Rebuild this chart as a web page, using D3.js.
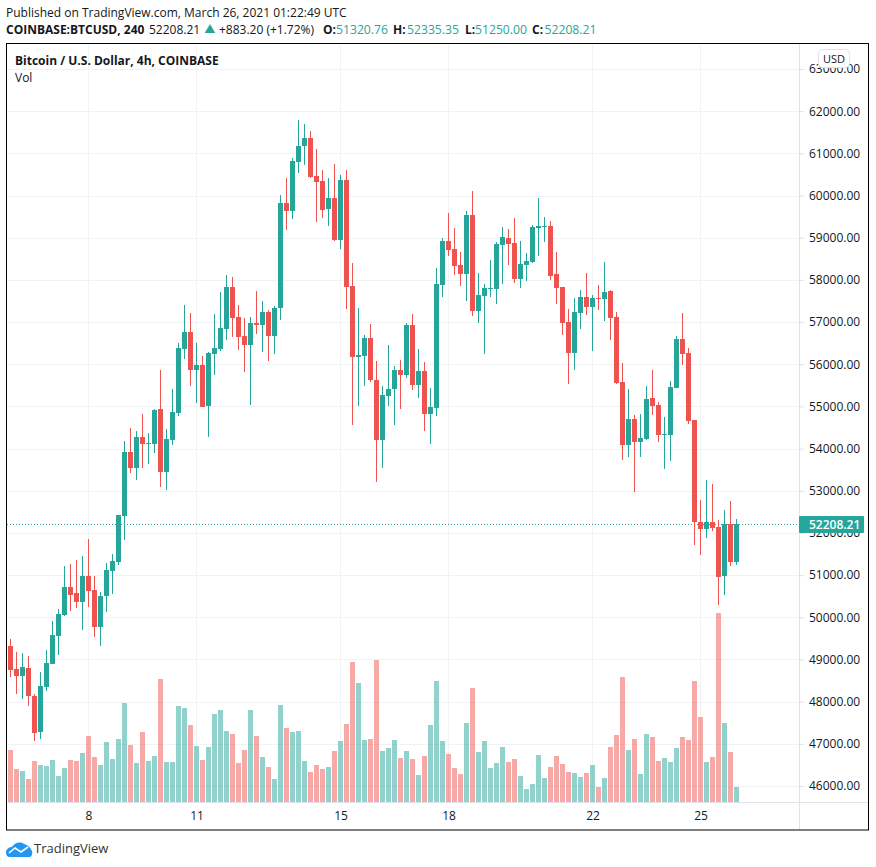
<!DOCTYPE html>
<html>
<head>
<meta charset="utf-8">
<script src="https://cdn.jsdelivr.net/npm/d3@7"></script>
<style>
    html, body { margin: 0; padding: 0; background: #fff; }
    svg { display: block; }
    text { font-family: "Open Sans", "Noto Sans", sans-serif; }
</style>
</head>
<body>
<div id="chart"></div>
<script>
var opens = [49326,48781,48615,48804,48141,47288,48354,48899,49563,50060,50724,50582,50369,50985,50653,49776,50511,51103,51317,52407,
    53923,53543,54278,54112,54112,54942,53449,54207,54847,56364,56767,55866,55984,55013,56245,56364,56838,57833,57122,56672,
    56458,56980,56933,57241,56672,57335,59824,59634,60796,61175,61364,60464,60345,59682,59942,58947,60369,57857,56174,56198,
    56624,55629,54207,55250,55416,55866,55748,56932,55510,55842,54823,54965,57880,58923,58734,58354,58141,59540,57264,57620,
    57786,57786,58828,58994,58876,58023,58354,58426,59231,59255,59279,58141,57833,57004,56269,57217,57596,57359,57572,57549,
    57738,57122,55582,54088,54705,54160,54231,55202,55036,54326,54326,55439,56601,56269,54681,52264,52098,52264,52145,50984,
    52216,51320.76];
var highs = [49492,49184,49160,49089,48188,48710,49231,49918,50203,51222,51269,51364,51459,51862,50985,50606,51293,51506,52430,54184,
    54491,54420,54823,54373,54942,55866,54468,55416,56506,57406,57217,56506,56198,56293,57193,57715,58117,58070,57406,57098,
    57122,57738,57501,57288,57383,60014,60416,60890,61791,61696,61530,61104,60606,60416,60748,60488,60606,58402,57335,56695,
    56956,56079,55487,56458,55961,56103,56980,57193,56364,56056,55439,58283,58994,59587,59231,58663,59634,60108,58165,57904,
    58473,58900,59255,59208,59468,58923,58639,59303,59942,59492,59397,58663,57833,57312,57572,57762,58165,57643,57880,58426,
    57762,57241,56032,55416,54800,54823,55487,55866,55108,54752,55605,56672,57217,56387,54681,52785,53259,53164,52311,52548,
    52761,52335.35];
var lows = [48591,48188,48070,47904,47074,47122,48259,48899,49113,50037,50155,50226,49705,50250,49539,49326,50132,50558,51245,51838,
    53425,53259,53543,53638,53899,53093,53022,54088,54776,56127,55487,55084,54989,54278,55748,56316,56577,56648,56340,55819,
    55036,56719,56293,56079,56245,57051,59184,59445,60535,60724,60416,59374,59468,59279,58923,58734,57312,54562,55013,55487,
    55582,53212,53543,55013,54562,54942,55676,55392,55202,54420,54112,54776,57596,58568,58117,57857,57501,57146,56980,56245,
    57596,57430,57904,58354,57928,57809,57975,58402,58568,58900,58000,57430,56695,55534,55866,56838,57169,56316,57288,57027,
    56577,55534,53733,53804,52975,53804,54207,54800,54160,53520,53709,55439,55984,54586,51718,51482,51884,52050,50297,50533,
    51221,51250];
var closes = [48757,48615,48828,48141,47264,48378,48923,49587,50084,50724,50534,50369,50985,50629,49776,50511,51127,51340,52430,53924,
    53543,54278,54112,54136,54918,53449,54231,54871,56387,56767,55866,55984,54989,56269,56387,56861,57833,57098,56648,56458,
    56980,56933,57241,56672,57335,59824,59634,60819,61175,61364,60440,60322,59658,59942,58947,60369,57833,56174,56221,56624,
    55629,54207,55274,55416,55866,55748,56932,55510,55842,54823,54989,57904,58923,58710,58331,58141,59540,57264,57643,57809,
    57809,58852,59018,58852,58023,58378,58449,59255,59279,59279,58094,57809,56980,56269,57241,57596,57359,57572,57549,57715,
    57098,55558,54088,54705,54160,54254,55179,55013,54326,54349,55463,56601,56245,54657,52264,52098,52264,52121,50960,52216,
    51315,52208.21];
var volumes = [1560,990,930,690,1230,1110,1080,1260,780,1020,1260,1230,1470,1980,1350,1110,1800,1290,1890,2970,
    1710,1170,2100,1230,1380,3690,1200,1200,2880,2820,2310,1680,1260,1650,2640,2760,2130,2040,1170,1560,
    2760,1980,1350,1050,690,2910,2220,2100,2130,1230,900,1110,990,1050,1530,1830,2340,4200,3570,1860,
    1890,4260,1530,1620,1860,1320,1530,1290,810,1380,2310,3630,1830,1440,1020,840,2370,3420,1500,1830,
    1020,1170,1650,1200,1290,780,390,540,1410,720,1050,1380,1140,900,870,750,870,1110,450,720,
    1650,2010,3750,1560,1890,840,2040,1950,1230,1320,1200,1620,1950,1860,3630,2550,1200,1350,5670,2370,
    1500,450];

var priceTicks = [46000,47000,48000,49000,50000,51000,52000,53000,54000,55000,56000,57000,58000,59000,60000,61000,62000,63000];
var timeTickBars = [13,31,55,73,97,115];
var timeTickLabels = ["8","11","15","18","22","25"];
var lastPrice = 52208.21;

var UP = "#26a69a", DOWN = "#ef5350", GRID = "#f1f2f3", AXIS = "#e0e3eb", INK = "#131722";

var svg = d3.select("#chart").append("svg").attr("width", 876).attr("height", 867);
svg.append("rect").attr("width", 876).attr("height", 867).attr("fill", "#fff");

var xScale = d3.scaleLinear().domain([0, 121]).range([10.5, 736.5]);
var yScale = d3.scaleLinear().domain([46000, 63000]).range([786, 69]);
var volScale = d3.scaleLinear().domain([0, 5670]).range([802, 613]);

function snap(v) { return Math.round(v); }
function barColor(i) { return closes[i] >= opens[i] ? UP : DOWN; }

// grid
var plot = svg.append("g");
plot.selectAll("line.h").data(priceTicks).enter().append("line").attr("class", "h")
    .attr("x1", 7).attr("x2", 799)
    .attr("y1", function(d) { return snap(yScale(d)) + 0.5; })
    .attr("y2", function(d) { return snap(yScale(d)) + 0.5; })
    .attr("stroke", GRID);
plot.selectAll("line.v").data(timeTickBars).enter().append("line").attr("class", "v")
    .attr("y1", 44).attr("y2", 802)
    .attr("x1", function(d) { return xScale(d); })
    .attr("x2", function(d) { return xScale(d); })
    .attr("stroke", GRID);

// volume
plot.selectAll("rect.vol").data(volumes).enter().append("rect").attr("class", "vol")
    .attr("x", function(d, i) { return xScale(i) - 2.5; })
    .attr("width", 5)
    .attr("y", function(d) { return snap(volScale(d)); })
    .attr("height", function(d) { return 802 - snap(volScale(d)); })
    .attr("fill", function(d, i) { return barColor(i); })
    .attr("fill-opacity", 0.5);

// last price line
plot.append("line")
    .attr("x1", 7).attr("x2", 799)
    .attr("y1", snap(yScale(lastPrice)) + 0.5).attr("y2", snap(yScale(lastPrice)) + 0.5)
    .attr("stroke", UP).attr("stroke-dasharray", "1 2");

// candles
var candles = plot.selectAll("g.candle").data(closes).enter().append("g").attr("class", "candle");
candles.append("rect")
    .attr("x", function(d, i) { return xScale(i) - 0.5; })
    .attr("width", 1)
    .attr("y", function(d, i) { return snap(yScale(highs[i])); })
    .attr("height", function(d, i) { return snap(yScale(lows[i])) - snap(yScale(highs[i])); })
    .attr("fill", function(d, i) { return barColor(i); });
candles.append("rect")
    .attr("x", function(d, i) { return xScale(i) - 2.5; })
    .attr("width", 5)
    .attr("y", function(d, i) { return snap(yScale(Math.max(opens[i], d))); })
    .attr("height", function(d, i) {
        return Math.max(1, snap(yScale(Math.min(opens[i], d))) - snap(yScale(Math.max(opens[i], d))));
    })
    .attr("fill", function(d, i) { return barColor(i); });

// axes
var priceAxis = d3.axisRight(yScale).tickValues(priceTicks).tickFormat(d3.format(".2f")).tickSize(5).tickPadding(5);
var yAxisG = svg.append("g").attr("transform", "translate(799,0)").call(priceAxis);
yAxisG.select(".domain").remove();
yAxisG.selectAll("line").attr("stroke", AXIS);
yAxisG.selectAll("text").attr("fill", INK).style("font-size", "12px").style("font-family", "'Open Sans'");

var timeAxis = d3.axisBottom(xScale).tickValues(timeTickBars)
    .tickFormat(function(d, i) { return timeTickLabels[i]; }).tickSize(0).tickPadding(9);
var xAxisG = svg.append("g").attr("transform", "translate(0,802)").call(timeAxis);
xAxisG.select(".domain").remove();
xAxisG.selectAll("text").attr("fill", INK).style("font-size", "12px").style("font-family", "'Open Sans'");

svg.append("line").attr("x1", 799.5).attr("x2", 799.5).attr("y1", 44).attr("y2", 830).attr("stroke", AXIS);
svg.append("line").attr("x1", 7).attr("x2", 868).attr("y1", 802.5).attr("y2", 802.5).attr("stroke", AXIS);

// last price tag
svg.append("rect").attr("x", 799).attr("y", snap(yScale(lastPrice)) - 8).attr("width", 65).attr("height", 17)
    .attr("rx", 1).attr("fill", UP);
svg.append("text").attr("x", 809).attr("y", snap(yScale(lastPrice)) + 5)
    .attr("fill", "#fff").style("font-size", "12px").style("font-weight", 600).text(d3.format(".2f")(lastPrice));

// currency button
svg.append("rect").attr("x", 818.5).attr("y", 49.5).attr("width", 31).attr("height", 18).attr("rx", 4)
    .attr("fill", "#fff").attr("stroke", AXIS);
svg.append("text").attr("x", 834).attr("y", 63).attr("text-anchor", "middle")
    .attr("fill", INK).style("font-size", "11px").text("USD");

// frame
svg.append("rect").attr("x", 6.5).attr("y", 43.5).attr("width", 862).attr("height", 786.5)
    .attr("fill", "none").attr("stroke", "#000");

// header
function label(x, y, txt, size, weight, color) {
    return svg.append("text").attr("x", x).attr("y", y).attr("fill", color || INK)
        .style("font-size", size + "px").style("font-weight", weight || 400).text(txt);
}
label(6, 17, "Published on TradingView.com, March 26, 2021 01:22:49 UTC", 12);
label(6, 34, "COINBASE:BTCUSD, 240", 12, 700);
label(149, 34, "52208.21", 12);
svg.append("path").attr("d", d3.symbol().type(d3.symbolTriangle).size(48)).attr("fill", UP)
    .attr("transform", "translate(210,30)");
label(219, 34, "+883.20 (+1.72%)", 12);
label(323, 34, "O:", 12, 700);
label(336, 34, "51320.76", 12.2, 400, UP);
label(393, 34, "H:", 12, 700);
label(407, 34, "52335.35", 12.2, 400, UP);
label(465, 34, "L:", 12, 700);
label(475, 34, "51250.00", 12.2, 400, UP);
label(532, 34, "C:", 12, 700);
label(544.5, 34, "52208.21", 12.2, 400, UP);
label(15, 65, "Bitcoin / U.S. Dollar, 4h, COINBASE", 12, 700);
label(15, 82, "Vol", 12);

// footer logo
svg.append("path")
    .attr("transform", "translate(0,1)")
    .attr("d", "M6 852 C6 847 10 846 12 846 C14 842 20 840 24 843 C28 844 30 846 32 850 C33 854 31 856 29 856 L10 856 C7 856 6 854 6 852 Z")
    .attr("fill", "#2196f3");
svg.append("path").attr("transform", "translate(0,1)").attr("d", "M9 852 L15 847 L21 851 L28 846")
    .attr("fill", "none").attr("stroke", "#fff").attr("stroke-width", 1.6);
label(34, 853, "TradingView", 13, 400, "#333");
</script>
</body>
</html>
